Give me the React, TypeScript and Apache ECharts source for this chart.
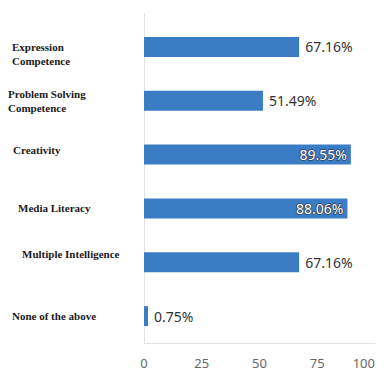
import React, { useEffect, useRef } from "react";
import * as echarts from "echarts";

const categories = [
  "Expression\nCompetence",
  "Problem Solving\nCompetence",
  "Creativity",
  "Media Literacy",
  "Multiple Intelligence",
  "None of the above",
];
const values = [67.16, 51.49, 89.55, 88.06, 67.16, 0.75];
const insideLabelIdx = [2, 3];
const xTicks = [0, 25, 50, 75, 100];
// per-label nudges (px): horizontal indent, vertical shift (single-line labels only)
const labelIndent = [4, 0, 5, 10, 14, 4];
const labelShift = [0, 0, -5, 0, -8, 0];
const labelLeadingBlank = [true, false, false, false, false, false];

const baseText = {
  fontSize: 11,
  fontWeight: "bold",
  fontFamily: "Liberation Serif",
  color: "#1a1a1a",
  lineHeight: 14,
};
const rich: Record<string, any> = {};
categories.forEach((_, i) => {
  const s = labelShift[i];
  rich["r" + i] = {
    ...baseText,
    padding: [s > 0 ? 2 * s : 0, 0, s < 0 ? -2 * s : 0, labelIndent[i]],
  };
});

export default function App() {
  const ref = useRef<HTMLDivElement>(null);
  useEffect(() => {
    if (!ref.current) return;
    const chart = echarts.init(ref.current, null, { renderer: "svg" });
    chart.setOption({
      animation: false,
      backgroundColor: "#ffffff",
      grid: { left: 144, right: 17, top: 20, bottom: 39, containLabel: false, outerBoundsMode: "none" },
      graphic: [
        {
          type: "line",
          shape: { x1: 144.5, y1: 13, x2: 144.5, y2: 20 },
          style: { stroke: "#e3e3e3", lineWidth: 1 },
        },
      ],
      xAxis: {
        type: "value",
        min: xTicks[0],
        max: xTicks[xTicks.length - 1],
        interval: 25,
        splitLine: { show: false },
        axisLine: { show: true, lineStyle: { color: "#e3e3e3", width: 1 } },
        axisTick: { show: false },
        axisLabel: {
          color: "#666",
          fontSize: 13,
          fontFamily: "Noto Sans",
          margin: 13,
          alignMaxLabel: "right",
        },
      },
      yAxis: {
        type: "category",
        inverse: true,
        data: categories,
        axisLine: { show: true, lineStyle: { color: "#e3e3e3", width: 1 } },
        axisTick: { show: false },
        axisLabel: {
          align: "left",
          margin: 136,
          color: "#1a1a1a",
          fontSize: 11,
          fontWeight: "bold",
          fontFamily: "Liberation Serif",
          lineHeight: 14,
          formatter: (val: string, idx: number) => {
            const lines = val.split("\n").map((line) => `{r${idx}|${line}}`);
            if (labelLeadingBlank[idx]) lines.unshift(`{r${idx}| }`);
            return lines.join("\n");
          },
          rich,
        },
      },
      series: [
        {
          type: "bar",
          barWidth: 20,
          barMinHeight: 4,
          itemStyle: { color: "#3b7dc5" },
          data: values.map((v, i) =>
            insideLabelIdx.includes(i)
              ? {
                  value: v,
                  label: {
                    position: "insideRight",
                    distance: 4,
                    color: "#ffffff",
                    textBorderColor: "#2f3f55",
                    textBorderWidth: 1.5,
                  },
                }
              : v
          ),
          label: {
            show: true,
            position: "right",
            distance: 6,
            fontSize: 14,
            fontFamily: "Noto Sans",
            color: "#333",
            formatter: (p: any) => p.value.toFixed(2) + "%",
          },
        },
      ],
    });
    return () => chart.dispose();
  }, []);
  return <div ref={ref} style={{ width: 392, height: 382, position: "absolute", left: 0, top: 0 }} />;
}
